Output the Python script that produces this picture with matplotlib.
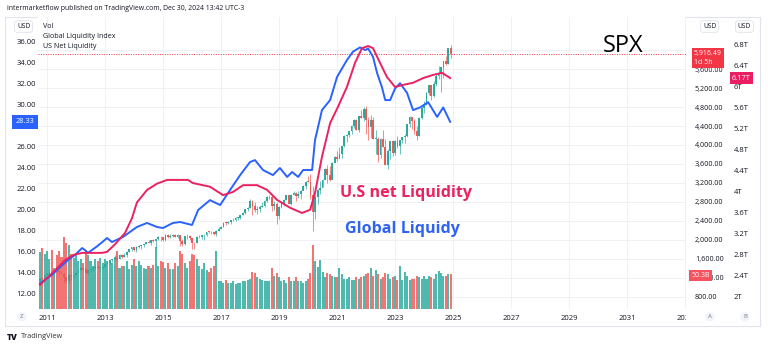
import numpy as np
import pandas as pd
import matplotlib
matplotlib.use("Agg")
import matplotlib.pyplot as plt
from matplotlib.patches import Rectangle
from matplotlib.transforms import Bbox, TransformedBbox

plt.rcParams["font.family"] = ["Open Sans", "DejaVu Sans"]

# ---- data ----
# monthly SPX candles, Oct 2010 .. Dec 2024
first_open = 1143
spx_close = [1183, 1181, 1258,
             1286, 1327, 1326, 1364, 1345, 1321, 1292, 1219, 1131, 1253, 1247, 1258,
             1312, 1366, 1408, 1398, 1310, 1362, 1379, 1407, 1441, 1412, 1416, 1426,
             1498, 1515, 1569, 1598, 1631, 1606, 1686, 1633, 1682, 1757, 1806, 1848,
             1783, 1859, 1872, 1884, 1924, 1960, 1931, 2003, 1972, 2018, 2068, 2059,
             1995, 2105, 2068, 2086, 2107, 2063, 2104, 1972, 1920, 2079, 2080, 2044,
             1940, 1932, 2060, 2065, 2097, 2099, 2174, 2171, 2168, 2126, 2199, 2239,
             2279, 2364, 2363, 2384, 2412, 2423, 2470, 2472, 2519, 2575, 2648, 2674,
             2824, 2714, 2641, 2648, 2705, 2718, 2816, 2902, 2914, 2712, 2760, 2507,
             2704, 2784, 2834, 2946, 2752, 2942, 2980, 2926, 2977, 3038, 3141, 3231,
             3226, 2954, 2585, 2912, 3044, 3100, 3271, 3500, 3363, 3270, 3622, 3756,
             3714, 3811, 3973, 4181, 4204, 4298, 4395, 4523, 4308, 4605, 4567, 4766,
             4516, 4374, 4530, 4132, 4132, 3785, 4130, 3955, 3586, 3872, 4080, 3840,
             4077, 3970, 4109, 4169, 4180, 4450, 4589, 4508, 4288, 4194, 4568, 4770,
             4846, 5096, 5254, 5036, 5278, 5460, 5522, 5648, 5762, 5705, 6032, 5916]
spx_high = [1196, 1228, 1262,
            1303, 1344, 1333, 1364, 1371, 1346, 1357, 1308, 1230, 1292, 1277, 1270,
            1333, 1378, 1420, 1422, 1415, 1363, 1392, 1426, 1475, 1470, 1434, 1448,
            1504, 1530, 1570, 1598, 1687, 1654, 1698, 1709, 1730, 1775, 1813, 1849,
            1850, 1867, 1884, 1897, 1925, 1968, 1992, 2005, 2019, 2018, 2075, 2094,
            2072, 2120, 2117, 2126, 2135, 2130, 2133, 2113, 2021, 2094, 2116, 2104,
            2039, 1963, 2075, 2112, 2103, 2120, 2178, 2194, 2187, 2170, 2214, 2278,
            2301, 2371, 2401, 2398, 2418, 2454, 2484, 2491, 2520, 2582, 2657, 2695,
            2873, 2836, 2802, 2717, 2742, 2791, 2848, 2916, 2941, 2940, 2815, 2800,
            2708, 2813, 2860, 2949, 2954, 2964, 3028, 3013, 3022, 3050, 3154, 3248,
            3338, 3394, 3136, 2955, 3068, 3233, 3280, 3514, 3588, 3550, 3646, 3760,
            3870, 3951, 3984, 4218, 4238, 4302, 4429, 4538, 4546, 4608, 4744, 4808,
            4819, 4595, 4637, 4593, 4308, 4178, 4140, 4325, 4120, 3906, 4081, 4101,
            4095, 4195, 4079, 4170, 4232, 4449, 4607, 4584, 4541, 4393, 4587, 4794,
            4932, 5111, 5265, 5264, 5342, 5506, 5670, 5651, 5768, 5879, 6044, 6100]
spx_low = [1131, 1173, 1186,
           1257, 1282, 1249, 1294, 1311, 1258, 1282, 1101, 1115, 1075, 1159, 1202,
           1259, 1311, 1340, 1358, 1291, 1267, 1325, 1354, 1397, 1403, 1343, 1398,
           1426, 1485, 1501, 1536, 1581, 1560, 1605, 1627, 1633, 1646, 1746, 1767,
           1770, 1737, 1834, 1814, 1860, 1915, 1930, 1905, 1964, 1821, 2001, 1973,
           1988, 1981, 2039, 2048, 2068, 2056, 2044, 1867, 1872, 1893, 2019, 1993,
           1812, 1810, 1931, 2034, 2026, 1992, 2074, 2148, 2119, 2097, 2084, 2187,
           2238, 2271, 2322, 2329, 2345, 2405, 2407, 2417, 2446, 2521, 2557, 2605,
           2683, 2533, 2586, 2553, 2594, 2698, 2699, 2796, 2864, 2603, 2631, 2346,
           2444, 2681, 2722, 2848, 2750, 2728, 2952, 2822, 2892, 2855, 3050, 3070,
           3215, 2855, 2192, 2447, 2766, 2966, 3115, 3284, 3210, 3234, 3280, 3633,
           3663, 3725, 3723, 3955, 4057, 4165, 4234, 4367, 4306, 4279, 4560, 4495,
           4223, 4115, 4157, 4124, 3811, 3637, 3721, 3955, 3585, 3492, 3698, 3764,
           3795, 3943, 3809, 4049, 4048, 4167, 4385, 4335, 4238, 4104, 4199, 4547,
           4682, 4845, 5057, 4954, 5012, 5235, 5390, 5120, 5403, 5675, 5697, 5833]
# volume, billions
volume = [82, 88, 80,
          84, 72, 86, 60, 78, 84, 76, 105, 96, 92, 80, 74,
          78, 70, 72, 66, 86, 78, 70, 62, 72, 70, 74, 66,
          72, 70, 66, 66, 76, 84, 60, 62, 62, 70, 58, 64,
          72, 62, 70, 64, 60, 58, 62, 60, 64, 90, 62, 70,
          68, 60, 66, 58, 58, 66, 62, 84, 80, 66, 60, 70,
          80, 78, 72, 62, 58, 66, 56, 54, 60, 62, 84, 40,
          40, 38, 42, 38, 38, 40, 36, 38, 38, 40, 40, 42,
          44, 54, 52, 46, 44, 42, 40, 40, 40, 60, 48, 52,
          46, 40, 42, 38, 46, 40, 40, 46, 40, 40, 38, 40,
          44, 52, 93, 70, 61, 71, 54, 46, 52, 50, 48, 46,
          46, 60, 50, 44, 44, 46, 42, 42, 46, 44, 46, 48,
          50, 52, 60, 48, 56, 50, 44, 46, 52, 50, 44, 46,
          48, 42, 62, 42, 53, 48, 42, 44, 44, 48, 46, 44,
          48, 44, 48, 46, 44, 50, 55, 52, 48, 48, 50, 50.3]

# Global Liquidity Index (left scale)
gli_t = [2010.76, 2011.17, 2011.52, 2011.72, 2011.97, 2012.21, 2012.31, 2012.41, 2012.72, 2012.9,
         2013.07, 2013.24, 2013.62, 2014.1, 2014.45, 2014.79, 2015.0, 2015.34, 2015.59, 2016.0,
         2016.21, 2016.62, 2016.97, 2017.31, 2017.66, 2018.0, 2018.17, 2018.45, 2018.79, 2019.03,
         2019.28, 2019.45, 2019.66, 2019.83, 2020.14, 2020.24, 2020.48, 2020.76, 2021.0, 2021.34,
         2021.55, 2021.79, 2021.97, 2022.07, 2022.24, 2022.38, 2022.55, 2022.66, 2022.83, 2023.0,
         2023.17, 2023.41, 2023.62, 2023.86, 2024.14, 2024.45, 2024.66, 2024.9]
gli_v = [13.0, 13.8, 14.7, 15.2, 15.7, 16.35, 16.15, 15.88, 16.5, 16.9,
         17.3, 16.92, 17.4, 18.35, 18.73, 18.35, 18.25, 18.73, 18.82, 18.54,
         19.96, 20.9, 20.43, 21.86, 23.28, 24.52, 24.7, 23.75, 23.28, 23.95,
         23.1, 23.57, 23.1, 23.76, 23.76, 26.6, 29.45, 30.4, 32.6, 34.2,
         35.0, 35.4, 35.15, 35.3, 34.5, 32.97, 31.6, 30.4, 30.4, 31.5,
         32.0, 31.1, 29.45, 29.7, 30.2, 28.8, 29.7, 28.33]

# US Net Liquidity, trillions (far right scale)
us_t = [2010.76, 2011.28, 2011.62, 2011.9, 2012.21, 2012.9, 2013.07, 2013.34, 2013.69, 2013.93,
        2014.1, 2014.45, 2014.8, 2015.14, 2015.86, 2016.03, 2016.62, 2017.07, 2017.41, 2017.76,
        2018.24, 2018.59, 2018.93, 2019.38, 2019.79, 2020.07, 2020.24, 2020.48, 2020.76, 2021.03,
        2021.34, 2021.62, 2021.86, 2022.07, 2022.24, 2022.48, 2022.72, 2023.0, 2023.28, 2023.62,
        2023.97, 2024.31, 2024.62, 2024.9]
us_v = [2.23, 2.51, 2.70, 2.80, 2.84, 2.84, 2.86, 3.0, 3.22, 3.5,
        3.8, 4.04, 4.16, 4.23, 4.23, 4.17, 4.10, 3.94, 4.0, 4.13,
        4.13, 4.04, 3.85, 3.70, 3.60, 3.66, 3.98, 4.67, 5.31, 5.62,
        6.0, 6.46, 6.74, 6.78, 6.74, 6.46, 6.19, 6.0, 6.04, 6.08,
        6.17, 6.23, 6.27, 6.17]

spx_last = 5916.49
gli_last = 28.33
us_last = 6.17
vol_last = 50.3

# ---- figure ----
W, H = 768, 349
fig = plt.figure(figsize=(W / 100, H / 100), dpi=100)


def fx(px):
    return px / W


def fy(py):
    return 1 - py / H


GREEN = "#26a69a"
RED = "#ef5350"
BLUE = "#2962ff"
PINK = "#ec2160"
TXT = "#131722"

rect = [fx(38), fy(309), (686 - 38) / W, (309 - 17) / H]

fig.add_artist(Rectangle((fx(5), fy(326)), (760 - 5) / W, (326 - 17) / H,
                         transform=fig.transFigure, fill=False, ec="#e0e3eb", lw=0.8))

months = pd.date_range("2010-10-01", periods=len(spx_close), freq="MS")
t = months.year + (months.month - 1) / 12.0
spx_open = [first_open] + spx_close[:-1]
up = np.array(spx_close) >= np.array(spx_open)
colors = np.where(up, GREEN, RED)

# SPX scale (grid + right labels)
ax = fig.add_axes(rect, zorder=1)
ax.set_xlim(2010.69, 2033.03)
ax.set_ylim(547, 6695)
ax.set_xticks(range(2011, 2034, 2))
ax.set_yticks(np.arange(800, 6001, 400))
ax.yaxis.set_major_formatter(lambda v, p: f"{v:,.2f}")
ax.yaxis.tick_right()
ax.tick_params(axis="y", length=0, pad=6.5, labelsize=5.2, labelcolor=TXT)
ax.tick_params(axis="x", length=0, pad=4, labelsize=5.5, labelcolor=TXT)
ax.grid(color="#eceff4", lw=0.6)
for s in ax.spines.values():
    s.set_visible(False)
ax.axhline(spx_last, color="#f23645", ls=(0, (1, 1.5)), lw=0.7)
clip = TransformedBbox(Bbox([[0, 0], [fx(686), 1]]), fig.transFigure)
for lab in ax.get_xticklabels():
    lab.set_clip_box(clip)
    lab.set_clip_on(True)

# volume
axv = fig.add_axes(rect, sharex=ax, zorder=2)
axv.patch.set_visible(False)
axv.set_ylim(0, 423)
axv.bar(t, volume, width=0.07, color=colors, alpha=0.8, linewidth=0)
axv.axis("off")

# candles
axc = fig.add_axes(rect, sharex=ax, sharey=ax, zorder=3)
axc.patch.set_visible(False)
axc.vlines(t, spx_low, spx_high, colors=colors, lw=0.55, alpha=0.85)
body_lo = np.minimum(spx_open, spx_close)
body_h = np.maximum(np.abs(np.array(spx_close) - np.array(spx_open)), 10)
axc.bar(t, body_h, bottom=body_lo, width=0.062, color=colors, alpha=0.95, linewidth=0)
axc.axis("off")

# Global Liquidity Index, left scale
axg = fig.add_axes(rect, sharex=ax, zorder=4)
axg.patch.set_visible(False)
axg.set_ylim(10.56, 38.29)
axg.set_yticks(np.arange(12, 37, 2))
axg.yaxis.set_major_formatter(lambda v, p: f"{v:.2f}")
axg.tick_params(axis="y", length=0, pad=1.5, labelsize=5.5, labelcolor=TXT)
axg.tick_params(axis="x", bottom=False, labelbottom=False)
for s in axg.spines.values():
    s.set_visible(False)
axg.plot(gli_t, gli_v, color=BLUE, lw=1.4, solid_joinstyle="round")

# US Net Liquidity, far right scale
axu = fig.add_axes(rect, sharex=ax, zorder=5)
axu.patch.set_visible(False)
axu.set_ylim(1.771, 7.333)
axu.set_yticks(np.round(np.arange(2.0, 6.81, 0.4), 1))
axu.yaxis.set_major_formatter(lambda v, p: f"{round(v, 1):g}T")
axu.yaxis.tick_right()
axu.tick_params(axis="y", length=0, pad=34.5, labelsize=5.5, labelcolor=TXT)
axu.tick_params(axis="x", bottom=False, labelbottom=False)
for s in axu.spines.values():
    s.set_visible(False)
axu.plot(us_t, us_v, color=PINK, lw=1.4, solid_joinstyle="round")

# last value labels on the scales
box = dict(boxstyle="square,pad=0.3", ec="none")
axg.annotate(f"{gli_last:.2f}", xy=(0, gli_last), xycoords=axg.get_yaxis_transform(),
             xytext=(-2.5, 0), textcoords="offset points", ha="right", va="center",
             fontsize=5.3, color="white", bbox=dict(box, fc=BLUE, boxstyle="square,pad=0.5"),
             annotation_clip=False, zorder=10)
ax.annotate(f"{spx_last:,.2f}\n1d 5h", xy=(1, spx_last), xycoords=ax.get_yaxis_transform(),
            xytext=(5.5, -3), textcoords="offset points", ha="left", va="center",
            fontsize=5.0, color="white", linespacing=1.3,
            bbox=dict(box, fc="#f23645"), annotation_clip=False, zorder=10)
axu.annotate(f"{us_last:.2f}T", xy=(1, us_last), xycoords=axu.get_yaxis_transform(),
             xytext=(33, 0), textcoords="offset points", ha="left", va="center",
             fontsize=5.3, color="white", bbox=dict(box, fc="#e91e63"), annotation_clip=False)
axv.annotate(f"{vol_last:.1f}B", xy=(1, vol_last), xycoords=axv.get_yaxis_transform(),
             xytext=(4, -1), textcoords="offset points", ha="left", va="center",
             fontsize=5.0, color="white", bbox=dict(box, fc="#f7525f"), annotation_clip=False)

# header, legend and annotations
fig.text(fx(7), fy(8), "intermarketflow published on TradingView.com, Dec 30, 2024 13:42 UTC-3",
         fontsize=4.95, color=TXT, va="center")
for i, name in enumerate(["Vol", "Global Liquidity Index", "US Net Liquidity"]):
    fig.text(fx(43), fy(26 + 10.5 * i), name, fontsize=5.1, color=TXT, va="center")

ubox = dict(boxstyle="round,pad=0.35,rounding_size=0.4", fc="white", ec="#e0e3eb", lw=0.6)
fig.text(fx(23.5), fy(26.5), "USD", fontsize=4.8, color=TXT, ha="center", va="center", bbox=ubox)
fig.text(fx(709.5), fy(26.5), "USD", fontsize=4.8, color=TXT, ha="center", va="center", bbox=ubox)
fig.text(fx(744.5), fy(26.5), "USD", fontsize=4.8, color=TXT, ha="center", va="center", bbox=ubox)

cbox = dict(boxstyle="circle,pad=0.35", fc="#f0f3fa", ec="none")
fig.text(fx(22), fy(317), "Z", fontsize=4.3, color="#787b86", ha="center", va="center", bbox=cbox)
fig.text(fx(710), fy(317), "A", fontsize=4.3, color="#787b86", ha="center", va="center", bbox=cbox)
fig.text(fx(745), fy(317), "B", fontsize=4.3, color="#787b86", ha="center", va="center", bbox=cbox)

fig.text(fx(7), fy(337), "TV", fontsize=6, fontweight="heavy", color=TXT, va="center")
fig.text(fx(21), fy(337), "TradingView", fontsize=5.3, color="#333333", va="center")

fig.text(fx(340), fy(197), "U.S net Liquidity", fontsize=11.6, fontweight="bold",
         color=PINK, va="baseline")
fig.text(fx(345), fy(233), "Global Liquidy", fontsize=11.6, fontweight="bold",
         color="#2f62f5", va="baseline")
fig.text(fx(603), fy(52), "SPX", fontsize=17, color="black", va="baseline")

fig.savefig("out.png", dpi=100)
